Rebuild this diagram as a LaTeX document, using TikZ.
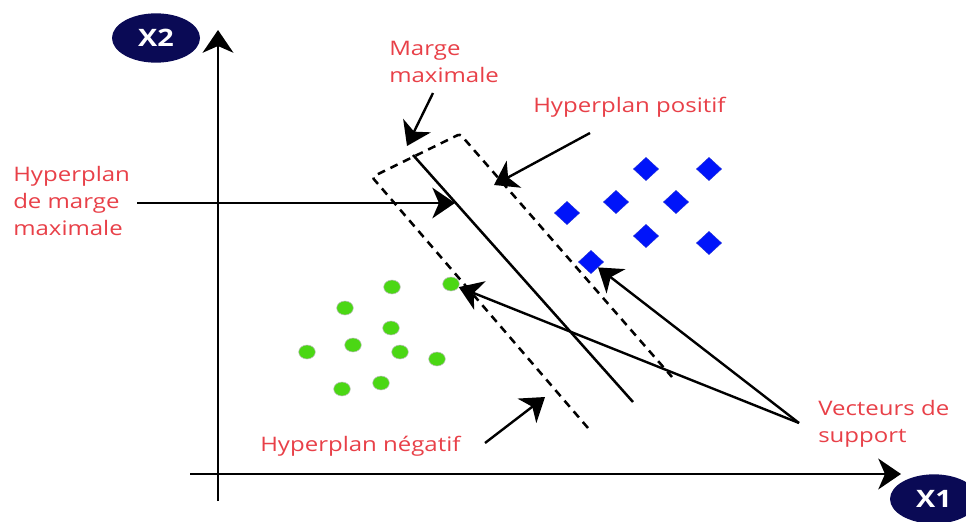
\documentclass[tikz,border=0pt]{standalone}
\usepackage{fontspec}
\setmainfont{Open Sans}[FakeStretch=1.2]
\usepackage{xcolor}
\usepackage{tikz}
\usetikzlibrary{shapes.geometric, arrows.meta, positioning}

\definecolor{labelred}{RGB}{232,64,72}
\definecolor{axisnavy}{RGB}{10,10,85}
\definecolor{dotgreen}{RGB}{75,215,20}
\definecolor{diamblue}{RGB}{0,20,250}

\begin{document}
\begin{tikzpicture}[
    x=0.75pt, y=-0.75pt,
    tip/.style={-{Stealth[length=17pt, width=23pt, inset=5pt]}},
    axis/.style={tip, line width=2.2pt},
    pointer/.style={tip, line width=1.8pt},
    axislabel/.style={ellipse, fill=axisnavy, text=white, minimum width=66pt, minimum height=37pt, inner sep=0pt, font=\fontsize{18}{20}\selectfont\bfseries},
    label/.style={text=labelred, inner sep=0pt, align=left, font=\fontsize{15}{20}\selectfont},
    posdot/.style={ellipse, fill=dotgreen, draw=gray!50, line width=0.4pt, minimum width=12.5pt, minimum height=10.5pt, inner sep=0pt},
    negdiam/.style={diamond, fill=diamblue, draw=diamblue!70!gray, line width=0.3pt, minimum width=19pt, minimum height=17.5pt, inner sep=0pt},
    margin/.style={line width=1.9pt, dash pattern=on 6pt off 4.5pt}
]
\useasboundingbox (0,0) rectangle (966,521);

% Axes
\coordinate (yBot) at (218,501);
\coordinate (yTop) at (218,30);
\coordinate (xLeft) at (190,474);
\coordinate (xRight) at (901,474);
\draw[axis] (yBot) -- (yTop);
\draw[axis] (xLeft) -- (xRight);
\node[axislabel] (x2) at (156,38) {X2};
\node[axislabel] (x1) at (934,499) {X1};

% Green class
\node[posdot] (g1) at (392,287) {};
\node[posdot] (gsv) at (451,284) {};
\node[posdot] (g2) at (345,308) {};
\node[posdot] (g3) at (391,328) {};
\node[posdot] (g4) at (353,345) {};
\node[posdot] (g5) at (307,352) {};
\node[posdot] (g6) at (400,352) {};
\node[posdot] (g7) at (437,359) {};
\node[posdot] (g8) at (342,389) {};
\node[posdot] (g9) at (381,383) {};

% Blue class
\node[negdiam] (b1) at (646,169) {};
\node[negdiam] (b2) at (709,169) {};
\node[negdiam] (b3) at (616,202) {};
\node[negdiam] (b4) at (676,202) {};
\node[negdiam] (b5) at (567,213) {};
\node[negdiam] (b6) at (646,236) {};
\node[negdiam] (b7) at (709,243) {};
\node[negdiam] (bsv) at (591,262) {};

% Hyperplane and margins
\coordinate (hypTop) at (413,155);
\coordinate (hypBot) at (633,402);
\coordinate (negTop) at (372,177);
\coordinate (negBot) at (588,428);
\coordinate (posTop) at (460,134);
\coordinate (posBot) at (672,377);
\draw[line width=1.9pt] (hypTop) -- (hypBot);
\draw[margin, rounded corners=2pt] (negBot) -- (negTop) -- (posTop) -- (posBot);

% Labels (base = last line)
\node[label, anchor=base west] (margeLbl) at (389,82) {Marge\\maximale};
\node[label, anchor=base west] (posLbl) at (533,112) {Hyperplan positif};
\node[label, anchor=base west] (hypLbl) at (13,235) {Hyperplan\\de marge\\maximale};
\node[label, anchor=base west] (negLbl) at (260,451) {Hyperplan négatif};
\node[label, anchor=base west] (svLbl) at (818,442) {Vecteurs de\\support};

% Pointers
\coordinate (margeFrom) at (433,93);
\coordinate (margeTo) at (407,146);
\coordinate (posFrom) at (590,133);
\coordinate (posTo) at (494,185);
\coordinate (hypFrom) at (137,203);
\coordinate (hypTo) at (455,203);
\coordinate (negFrom) at (485,443);
\coordinate (negTo) at (545,397);
\coordinate (svFrom) at (799,423);
\draw[pointer] (margeFrom) -- (margeTo);
\draw[pointer] (posFrom) -- (posTo);
\draw[pointer] (hypFrom) -- (hypTo);
\draw[pointer] (negFrom) -- (negTo);
\draw[pointer] (svFrom) -- (gsv);
\draw[pointer] (svFrom) -- (bsv);
\end{tikzpicture}
\end{document}
